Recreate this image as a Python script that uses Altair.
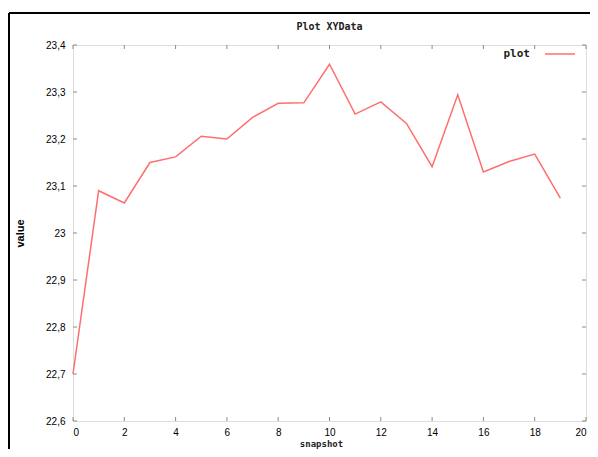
import altair as alt
import pandas as pd

# ---- data ----
snapshot = list(range(20))
values = [22.70, 23.09, 23.064, 23.150, 23.162, 23.206, 23.200, 23.246, 23.276, 23.277,
          23.359, 23.253, 23.279, 23.233, 23.141, 23.294, 23.130, 23.152, 23.168, 23.074]
series_name = ["plot"]
x_ticks = list(range(0, 21, 2))
y_ticks = [22.6, 22.7, 22.8, 22.9, 23.0, 23.1, 23.2, 23.3, 23.4]
chart_title = ["Plot XYData"]
x_title = ["snapshot"]

W, H = 513, 376
FONT = "DejaVu Sans Mono"
LINE_COLOR = "#ff6e6e"
AXIS_COLOR = "#8a8a8a"
TEXT_COLOR = "#222222"

df = pd.DataFrame({"snapshot": snapshot, "value": values})
xt = pd.DataFrame({"t": x_ticks})
yt = pd.DataFrame({"t": y_ticks})
leg = pd.DataFrame({"name": series_name})
ttl = pd.DataFrame({"t": chart_title})
xttl = pd.DataFrame({"t": x_title})
dummy = pd.DataFrame({"a": [0]})

xscale = alt.Scale(domain=[0, 20], nice=False, zero=False)
yscale = alt.Scale(domain=[22.6, 23.4], nice=False, zero=False)

label_expr = "replace(format(datum.value, '.3~r'), '.', ',')"

line = alt.Chart(df).mark_line(color=LINE_COLOR, strokeWidth=1.5).encode(
    x=alt.X("snapshot:Q", scale=xscale,
            axis=alt.Axis(values=x_ticks, ticks=False, domain=False, grid=False,
                          labelPadding=6, labelFontSize=10, title=None)),
    y=alt.Y("value:Q", scale=yscale,
            axis=alt.Axis(values=y_ticks, ticks=False, domain=False, grid=False,
                          labelPadding=8, labelExpr=label_expr, title="value",
                          titlePadding=20)),
)

# inward ticks (gnuplot style), bottom/top and left/right
xt_bottom = alt.Chart(xt).mark_rule(color=AXIS_COLOR, strokeWidth=1).encode(
    x=alt.X("t:Q", scale=xscale), y=alt.value(H), y2=alt.value(H - 4))
xt_top = alt.Chart(xt).mark_rule(color=AXIS_COLOR, strokeWidth=1).encode(
    x=alt.X("t:Q", scale=xscale), y=alt.value(0), y2=alt.value(4))
yt_left = alt.Chart(yt).mark_rule(color=AXIS_COLOR, strokeWidth=1).encode(
    y=alt.Y("t:Q", scale=yscale), x=alt.value(0), x2=alt.value(4))
yt_right = alt.Chart(yt).mark_rule(color=AXIS_COLOR, strokeWidth=1).encode(
    y=alt.Y("t:Q", scale=yscale), x=alt.value(W), x2=alt.value(W - 4))

# legend (top right, inside the plot)
leg_text = alt.Chart(leg).mark_text(align="right", baseline="middle", font=FONT,
                                    fontWeight="bold", fontSize=11, color=TEXT_COLOR).encode(
    text="name:N", x=alt.value(457), y=alt.value(9))
leg_line = alt.Chart(leg).mark_rule(color=LINE_COLOR, strokeWidth=1.5).encode(
    x=alt.value(472), x2=alt.value(502), y=alt.value(9), detail="name:N")

# chart title and x-axis title as text
title_mark = alt.Chart(ttl).mark_text(align="center", baseline="middle", font=FONT,
                                      fontWeight="bold", fontSize=10, color=TEXT_COLOR).encode(
    text="t:N", x=alt.value(W / 2), y=alt.value(-18))
xtitle_mark = alt.Chart(xttl).mark_text(align="center", baseline="bottom", font=FONT,
                                        fontWeight="bold", fontSize=9, color=TEXT_COLOR).encode(
    text="t:N", x=alt.value(W / 2 - 8), y=alt.value(H + 28))

# outer window frame
frame_top = alt.Chart(dummy).mark_rule(color="#000000", strokeWidth=2).encode(
    x=alt.value(-64), x2=alt.value(540), y=alt.value(-32))
frame_left = alt.Chart(dummy).mark_rule(color="#000000", strokeWidth=2).encode(
    x=alt.value(-64), y=alt.value(-32), y2=alt.value(420))

chart = alt.layer(
    frame_top, frame_left, xt_bottom, xt_top, yt_left, yt_right, line,
    leg_line, leg_text, title_mark, xtitle_mark
).properties(
    width=W, height=H,
    autosize=alt.AutoSizeParams(type="none"),
    padding={"left": 65, "top": 37, "right": 4, "bottom": 28},
).configure_view(
    stroke=AXIS_COLOR, strokeWidth=1.5
).configure_axis(
    labelFont=FONT, labelFontWeight="bold", labelFontSize=11, labelColor=TEXT_COLOR,
    titleFont=FONT, titleFontWeight="bold", titleFontSize=10, titleColor=TEXT_COLOR,
).configure(background="white")

chart.save("out.html", embed_options={"renderer": "svg", "actions": False})
